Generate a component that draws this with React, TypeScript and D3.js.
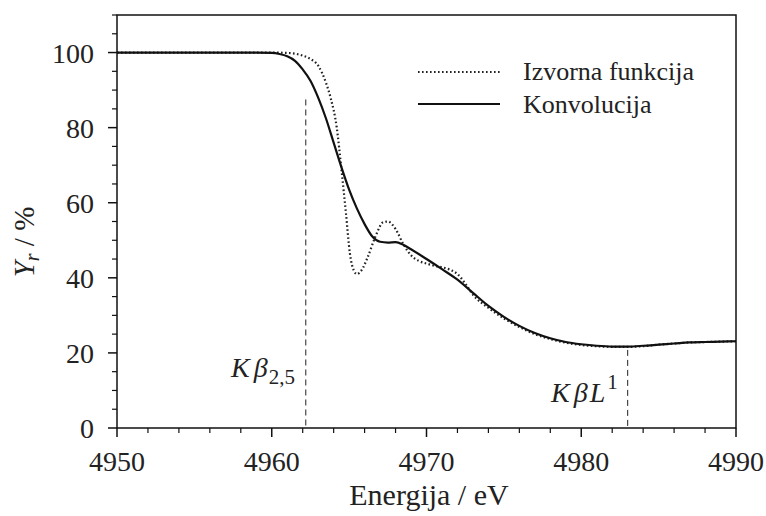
import React from "react";
import * as d3 from "d3";

const convX = [4950, 4959, 4960, 4960.5, 4961, 4961.5, 4962, 4962.5, 4963, 4963.5, 4964, 4964.5, 4965, 4965.5, 4966, 4966.5, 4967, 4967.5, 4968, 4968.5, 4969, 4970, 4971, 4972, 4973, 4974, 4975, 4976, 4977, 4978, 4979, 4980, 4981, 4982, 4983, 4984, 4985, 4986, 4987, 4988, 4989, 4990];
const convY = [100, 100, 99.9, 99.6, 99, 97.8, 95.5, 92.5, 88, 82.5, 76, 69.5, 63.5, 58.5, 54.3, 51, 49.6, 49.4, 49.5, 48.8, 47.6, 45, 42.3, 39.5, 36, 32.5, 29.6, 27.2, 25.3, 23.9, 22.9, 22.3, 21.9, 21.7, 21.7, 21.9, 22.2, 22.5, 22.8, 22.9, 23, 23.1];

const srcX = [4950, 4960, 4961, 4961.5, 4962, 4962.5, 4963, 4963.5, 4963.8, 4964.2, 4964.5, 4964.8, 4965.05, 4965.3, 4965.5, 4965.8, 4966.2, 4966.7, 4967.2, 4967.5, 4968, 4968.5, 4969, 4969.5, 4970, 4970.5, 4971, 4971.5, 4972, 4972.5, 4973, 4974, 4975, 4976, 4977, 4978, 4979, 4980, 4981, 4982, 4983, 4984, 4985, 4986, 4987, 4988, 4990];
const srcY = [100, 100, 99.9, 99.7, 99.2, 98.3, 96.5, 92, 88, 80, 69, 57, 46.5, 42, 41, 42, 45.5, 51, 54.8, 55, 53, 49, 46, 44.5, 43.8, 43.2, 42.8, 42.2, 41, 38.5, 35.5, 32, 29.2, 26.9, 25, 23.7, 22.7, 22.1, 21.8, 21.6, 21.6, 21.8, 22.2, 22.5, 22.8, 22.9, 23.1];

const xMajor = [4950, 4960, 4970, 4980, 4990];
const yMajor = [0, 20, 40, 60, 80, 100];
const legendLabels = ["Izvorna funkcija", "Konvolucija"];
const markers = [
  { x: 4962.2, top: 87.5 },
  { x: 4983.0, top: 20.8 },
];

const W = 766, H = 516;
const L = 117, R = 736, T = 15, B = 428;
const FONT = "Liberation Serif";

export default function App() {
  const x = d3.scaleLinear().domain([4950, 4990]).range([L, R]);
  const y = d3.scaleLinear().domain([0, 110]).range([B, T]);
  const line = d3.line<[number, number]>().x(d => x(d[0])).y(d => y(d[1])).curve(d3.curveMonotoneX);
  const conv = convX.map((v, i) => [v, convY[i]] as [number, number]);
  const src = srcX.map((v, i) => [v, srcY[i]] as [number, number]);
  const xMinor = d3.range(4950, 4990.1, 2).filter(v => !xMajor.includes(v));
  const yMinor = d3.range(0, 110.1, 5).filter(v => !yMajor.includes(v));
  const ts = { fontFamily: FONT };
  return (
    <svg width={W} height={H} fontFamily={FONT} style={{ position: "absolute", left: 0, top: 0, background: "#fff", fontFamily: FONT }}>
      <rect x={0} y={0} width={W} height={H} fill="#fff" />
      <path d={line(src) || ""} fill="none" stroke="#222" strokeWidth={2.2} strokeDasharray="1.6 2.4" />
      <path d={line(conv) || ""} fill="none" stroke="#111" strokeWidth={2.2} />
      {markers.map((m, i) => (
        <line key={i} x1={x(m.x)} x2={x(m.x)} y1={y(m.top)} y2={B} stroke="#222" strokeWidth={1} strokeDasharray="6 4" />
      ))}
      <text x={231} y={377} fontSize={28} fill="#222" fontFamily={FONT} style={ts}>
        <tspan fontStyle="italic">K</tspan>
        <tspan fontStyle="italic" dx={4}>β</tspan>
        <tspan fontSize={21} dy={7} dx={1}>2,5</tspan>
      </text>
      <text x={551} y={402} fontSize={28} fill="#222" fontFamily={FONT} style={ts}>
        <tspan fontStyle="italic">K</tspan>
        <tspan fontStyle="italic" dx={4}>β</tspan>
        <tspan fontStyle="italic" dx={2}>L</tspan>
        <tspan fontSize={21} dy={-13} dx={2}>1</tspan>
      </text>
      <rect x={L} y={T} width={R - L} height={B - T} fill="none" stroke="#111" strokeWidth={1.5} />
      {xMajor.map(v => (
        <line key={"xt" + v} x1={x(v)} x2={x(v)} y1={B} y2={B + 9} stroke="#111" strokeWidth={1.5} />
      ))}
      {xMajor.map(v => (
        <text key={"xl" + v} x={x(v)} y={471} fontSize={28} textAnchor="middle" fill="#222" fontFamily={FONT} style={ts}>{String(v)}</text>
      ))}
      {xMinor.map(v => (
        <line key={v} x1={x(v)} x2={x(v)} y1={B} y2={B + 5} stroke="#111" strokeWidth={1.2} />
      ))}
      {yMajor.map(v => (
        <line key={"yt" + v} x1={L - 9} x2={L} y1={y(v)} y2={y(v)} stroke="#111" strokeWidth={1.5} />
      ))}
      {yMajor.map(v => (
        <text key={"yl" + v} x={94} y={y(v) + 10} fontSize={28} textAnchor="end" fill="#222" fontFamily={FONT} style={ts}>{String(v)}</text>
      ))}
      {yMinor.map(v => (
        <line key={v} x1={L - 5} x2={L} y1={y(v)} y2={y(v)} stroke="#111" strokeWidth={1.2} />
      ))}
      <text x={429} y={505} fontSize={30} textAnchor="middle" fill="#222" fontFamily={FONT} style={ts}>Energija / eV</text>
      <text transform="translate(34,242) rotate(-90)" fontSize={29} textAnchor="middle" fill="#222" fontFamily={FONT} style={ts}>
        <tspan fontStyle="italic">Y</tspan>
        <tspan fontStyle="italic" fontSize={20} dy={5}>r</tspan>
        <tspan dy={-5}> / %</tspan>
      </text>
      <line x1={418} x2={500} y1={72} y2={72} stroke="#222" strokeWidth={2.2} strokeDasharray="1.6 2.4" />
      <line x1={418} x2={500} y1={104} y2={104} stroke="#111" strokeWidth={2.2} />
      <text x={523} y={80} fontSize={26} fill="#222" fontFamily={FONT} style={ts}>{legendLabels[0]}</text>
      <text x={523} y={113} fontSize={26} fill="#222" fontFamily={FONT} style={ts}>{legendLabels[1]}</text>
    </svg>
  );
}
